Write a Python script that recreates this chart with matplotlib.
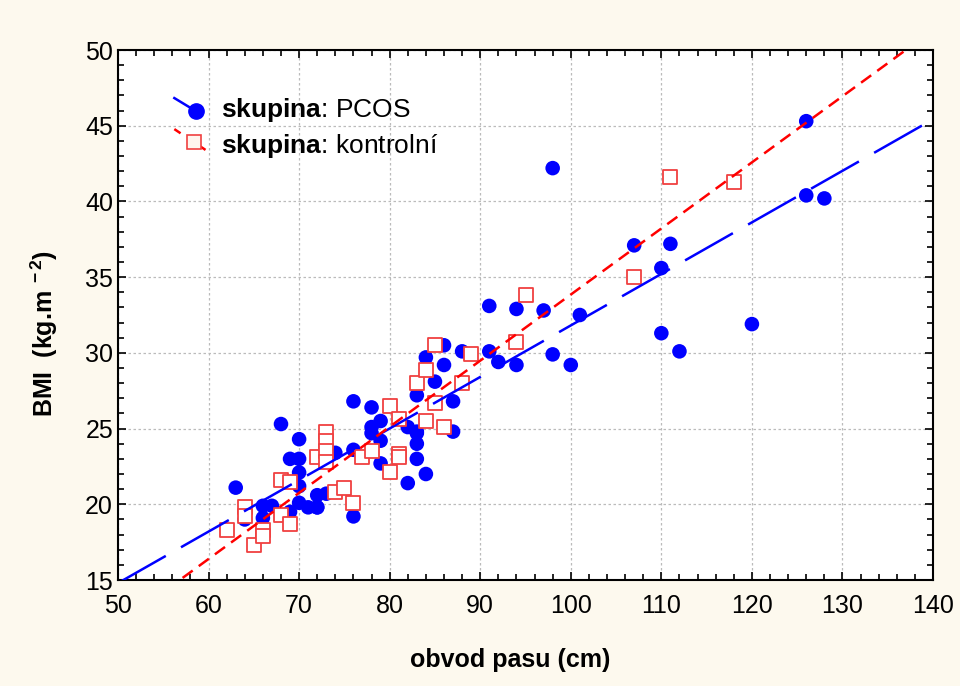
import numpy as np
import matplotlib
matplotlib.use("Agg")
import matplotlib.pyplot as plt
from matplotlib.ticker import MultipleLocator
from matplotlib.lines import Line2D
from matplotlib.legend_handler import HandlerBase

plt.rcParams['font.family'] = ['Liberation Sans', 'DejaVu Sans']
plt.rcParams['mathtext.fontset'] = 'custom'
plt.rcParams['mathtext.rm'] = 'Liberation Sans'
plt.rcParams['mathtext.bf'] = 'Liberation Sans:bold'
plt.rcParams['mathtext.it'] = 'Liberation Sans:italic'

# PCOS group (waist circumference cm, BMI)
pcos_waist = [63, 64, 66, 66, 67, 68, 69, 69, 70, 70, 70, 70, 70, 71, 72, 72, 73, 72,
              74, 76, 76, 76, 78, 78, 78, 79, 79, 79, 82, 82, 83, 83, 83, 83, 83,
              84, 84, 85, 86, 86, 87, 87, 88, 91, 91, 92, 94, 94, 97, 98, 98, 100,
              101, 107, 110, 110, 111, 112, 120, 126, 126, 128]
pcos_bmi = [21.1, 19.0, 19.9, 19.1, 19.9, 25.3, 23.0, 19.5, 24.3, 23.0, 22.1, 21.2, 20.1,
            19.8, 19.8, 20.6, 20.7, 19.8,
            23.4, 26.8, 23.6, 19.2, 26.4, 25.1, 24.7, 25.5, 24.2, 22.7, 25.1, 21.4,
            24.8, 24.0, 23.0, 27.2, 24.7,
            22.0, 29.7, 28.1, 30.5, 29.2, 26.8, 24.8, 30.1, 33.1, 30.1, 29.4, 32.9,
            29.2, 32.8, 42.2, 29.9, 29.2,
            32.5, 37.1, 35.6, 31.3, 37.2, 30.1, 31.9, 45.3, 40.4, 40.2]

# Control group
ctrl_waist = [62, 64, 64, 65, 66, 66, 68, 68, 69, 69, 72, 73, 73, 73, 73, 74, 75, 76,
              77, 78, 80, 80, 81, 81, 81, 83, 84, 84, 85, 85, 86, 88, 89, 94, 95,
              107, 111, 118]
ctrl_bmi = [18.3, 19.8, 19.2, 17.3, 18.3, 17.9, 21.6, 19.3, 21.5, 18.7, 23.1, 24.8,
            24.2, 23.5, 22.8, 20.8, 21.1, 20.1,
            23.1, 23.5, 26.5, 22.1, 25.6, 23.3, 23.1, 28.0, 28.9, 25.5, 30.5, 26.7,
            25.1, 28.0, 29.9, 30.7, 33.8,
            35.0, 41.6, 41.3]

x_ticks = list(range(50, 141, 10))
y_ticks = list(range(15, 51, 5))
labels = [r'$\bf{skupina}$: PCOS', r'$\bf{skupina}$: kontrolní']

BLUE = '#0000FF'
RED = '#FF0000'
SQ_EDGE = '#F04040'


class DiagHandler(HandlerBase):
    def __init__(self, kind):
        super().__init__()
        self.kind = kind

    def create_artists(self, legend, orig_handle, xdescent, ydescent, width, height,
                       fontsize, trans):
        x0 = -xdescent
        c = -ydescent + height / 2
        if self.kind == 'pcos':
            ln = Line2D([x0, x0 + 0.55 * width], [c + 7.0, c - 2.5], color=BLUE, lw=1.8)
            mk = Line2D([x0 + 0.55 * width], [c - 2.5], marker='o', markersize=11,
                        color=BLUE, linestyle='none')
        else:
            ln = Line2D([x0, x0 + width], [c + 10.5, c - 8.5], color=RED, lw=1.8,
                        dashes=(3, 9))
            mk = Line2D([x0 + 0.5 * width], [c + 1.5], marker='s', markersize=10,
                        markerfacecolor='#FFF5EE', markeredgecolor=SQ_EDGE,
                        markeredgewidth=1.2, linestyle='none')
        ln.set_transform(trans)
        mk.set_transform(trans)
        return [ln, mk]


fig = plt.figure(figsize=(9.6, 6.86), dpi=100, facecolor='#FDF9EE')
ax = fig.add_axes([0.1229, 0.1545, 0.849, 0.7726])
ax.set_facecolor('white')

ax.scatter(pcos_waist, pcos_bmi, s=110, color=BLUE, edgecolors='none', zorder=3)
ax.scatter(ctrl_waist, ctrl_bmi, s=112, marker='s', facecolors='white',
           edgecolors=SQ_EDGE, linewidths=1.3, zorder=4)

xx = np.linspace(50, 140, 200)
bp = np.polyfit(pcos_waist, pcos_bmi, 1)
rp = np.polyfit(ctrl_waist, ctrl_bmi, 1)
ax.plot(xx, np.polyval(bp, xx), color=BLUE, lw=1.8, dashes=(22, 7), zorder=5)
ax.plot(xx, np.polyval(rp, xx), color=RED, lw=1.8, dashes=(5, 3), zorder=5)

ax.set_xlim(50, 140)
ax.set_ylim(15, 50)
ax.set_xticks(x_ticks)
ax.set_yticks(y_ticks)
ax.xaxis.set_minor_locator(MultipleLocator(2))
ax.yaxis.set_minor_locator(MultipleLocator(1))
ax.tick_params(which='both', direction='in', top=True, right=True, labelsize=18, width=1.2)
ax.tick_params(which='major', length=6)
ax.tick_params(which='minor', length=4)
ax.tick_params(axis='x', pad=10)
for s in ax.spines.values():
    s.set_linewidth(1.5)
ax.grid(True, which='major', color='#BBBBBB', linestyle=(0, (2, 2)), linewidth=0.9)
ax.set_axisbelow(True)

ax.set_xlabel('obvod pasu (cm)', fontsize=18, fontweight='bold')
ax.xaxis.set_label_coords(0.481, -0.128)
ax.set_ylabel(r'BMI  (kg.m$^{\mathbf{\ -2}}$)', fontsize=18, fontweight='bold')
ax.yaxis.set_label_coords(-0.071, 0.466)

h1 = Line2D([], [], color=BLUE)
h2 = Line2D([], [], color=RED)
ax.legend([h1, h2], labels, handler_map={h1: DiagHandler('pcos'), h2: DiagHandler('ctrl')},
          loc='upper left', bbox_to_anchor=(0.040, 0.958), frameon=False,
          fontsize=19, handlelength=1.5, handletextpad=0.25, labelspacing=0.3)

fig.savefig('out.png', dpi=100, facecolor=fig.get_facecolor())
